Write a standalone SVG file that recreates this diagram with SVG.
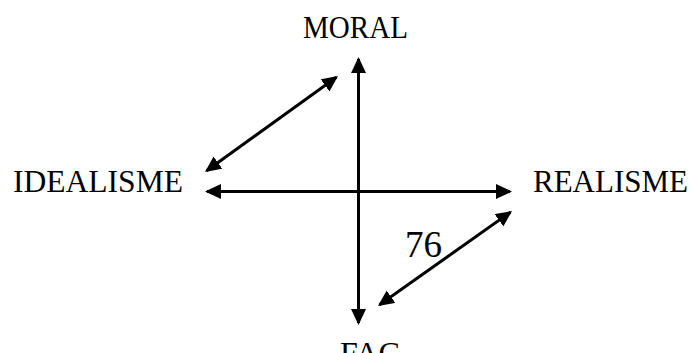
<svg xmlns="http://www.w3.org/2000/svg" width="691" height="353" viewBox="0 0 691 353">
<style>
.lbl{font-family:"Liberation Serif","Times New Roman",serif;font-size:31px;fill:#000}
.num{font-family:"Liberation Serif","Times New Roman",serif;font-size:37px;fill:#000}
.conn{stroke:#000;stroke-width:3;fill:none;marker-start:url(#ah);marker-end:url(#ah)}
</style>
<defs>
<marker id="ah" markerUnits="userSpaceOnUse" markerWidth="18" markerHeight="16" refX="14" refY="7.5" orient="auto-start-reverse" viewBox="0 0 18 16">
<path d="M0,0 L16,7.5 L0,15 z" fill="#000"/>
</marker>
</defs>
<rect width="691" height="353" fill="#fff"/>
<g id="connectors">
<line class="conn" x1="358.5" y1="59" x2="358.5" y2="323"/>
<line class="conn" x1="207" y1="191.5" x2="510" y2="191.5"/>
<line class="conn" x1="206.6" y1="170.8" x2="336.4" y2="77.2"/>
<line class="conn" x1="379.6" y1="304.8" x2="510.4" y2="212.2"/>
</g>
<g id="moral"><text class="lbl" x="303" y="38" textLength="105" lengthAdjust="spacingAndGlyphs">MORAL</text></g>
<g id="idealisme"><text class="lbl" x="13" y="192" textLength="170" lengthAdjust="spacingAndGlyphs">IDEALISME</text></g>
<g id="realisme"><text class="lbl" x="533" y="192" textLength="155" lengthAdjust="spacingAndGlyphs">REALISME</text></g>
<g id="fac"><text class="lbl" x="340" y="364" textLength="60" lengthAdjust="spacingAndGlyphs">FAC</text></g>
<g id="label76"><text class="num" x="405" y="257">76</text></g>
</svg>
